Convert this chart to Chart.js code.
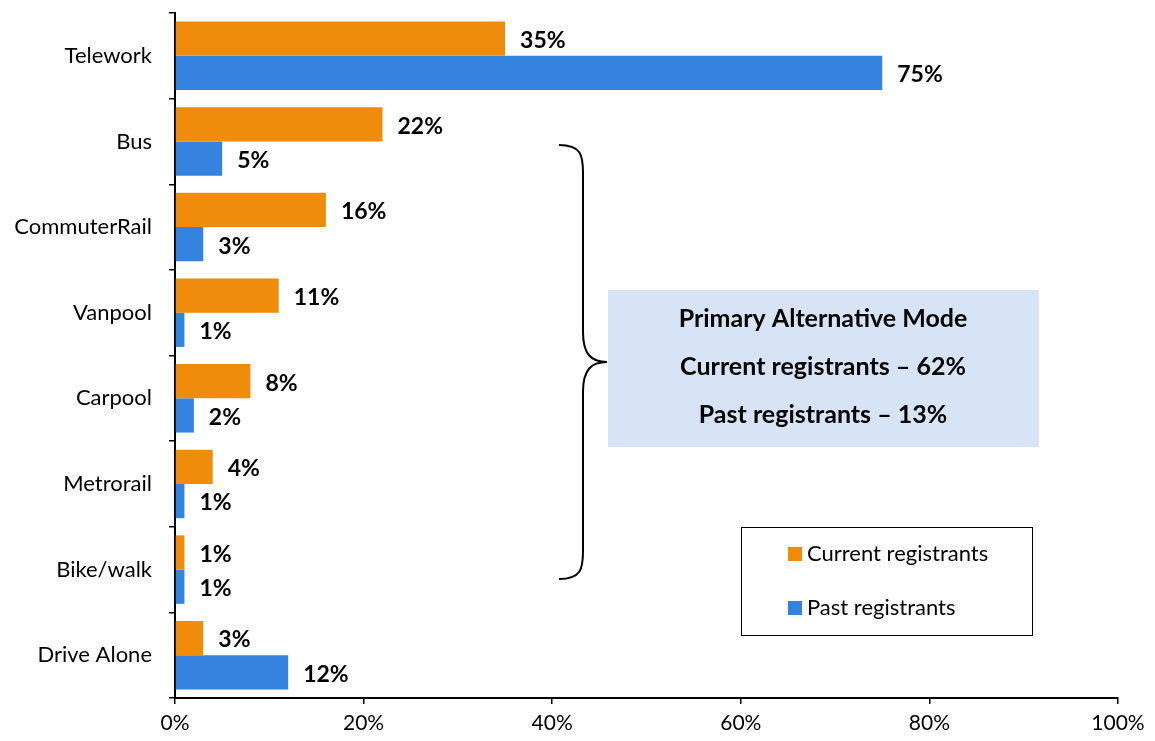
<!DOCTYPE html>
<html>
<head>
<meta charset="utf-8">
<script src="https://cdn.jsdelivr.net/npm/chart.js@4"></script>
<style>
  html, body { margin: 0; padding: 0; background: #fff; }
  #wrap { width: 1155px; height: 741px; }
</style>
</head>
<body>
<div id="wrap"><canvas id="grafico"></canvas></div>
<script>
const categories = ['Telework', 'Bus', 'CommuterRail', 'Vanpool', 'Carpool', 'Metrorail', 'Bike/walk', 'Drive Alone'];
const current = [35, 22, 16, 11, 8, 4, 1, 3];   // Current registrants
const past = [75, 5, 3, 1, 2, 1, 1, 12];        // Past registrants
const xTicks = [0, 20, 40, 60, 80, 100];
const noteLines = ['Primary Alternative Mode', 'Current registrants \u2013 62%', 'Past registrants \u2013 13%'];

const FONT = 'Lato, sans-serif';
const ORANGE = '#EF8C0C';
const BLUE = '#3483DF';

// rótulos de valor no fim de cada barra
const valueLabels = {
  id: 'valueLabels',
  afterDatasetsDraw(chart) {
    const ctx = chart.ctx;
    ctx.save();
    ctx.font = 'bold 23px ' + FONT;
    ctx.fillStyle = '#000';
    ctx.textBaseline = 'middle';
    chart.data.datasets.forEach((ds, di) => {
      chart.getDatasetMeta(di).data.forEach((bar, i) => {
        ctx.fillText(ds.data[i] + '%', bar.x + 15, bar.y + 2);
      });
    });
    ctx.restore();
  }
};

// chave, caixa de nota e legenda
const extras = {
  id: 'extras',
  afterDraw(chart) {
    const ctx = chart.ctx;
    ctx.save();

    // chave
    const bx = 559, top = 145, bot = 579, mid = 362, tip = 607, col = 583;
    ctx.strokeStyle = '#000';
    ctx.lineWidth = 2;
    ctx.beginPath();
    ctx.moveTo(bx, top);
    ctx.bezierCurveTo(col - 2, top, col, top + 10, col, top + 28);
    ctx.lineTo(col, mid - 30);
    ctx.bezierCurveTo(col, mid - 8, col + 8, mid, tip, mid);
    ctx.bezierCurveTo(col + 8, mid, col, mid + 8, col, mid + 30);
    ctx.lineTo(col, bot - 28);
    ctx.bezierCurveTo(col, bot - 10, col - 2, bot, bx, bot);
    ctx.stroke();

    // caixa de nota
    ctx.fillStyle = '#D6E4F6';
    ctx.fillRect(608, 290, 431, 157);
    ctx.fillStyle = '#000';
    ctx.font = 'bold 25px ' + FONT;
    ctx.textAlign = 'center';
    ctx.textBaseline = 'middle';
    noteLines.forEach((t, i) => ctx.fillText(t, 823, 319 + i * 48));

    // legenda
    ctx.strokeStyle = '#000';
    ctx.lineWidth = 1;
    ctx.strokeRect(741.5, 527.5, 291, 108);
    ctx.textAlign = 'left';
    ctx.font = '22px ' + FONT;
    chart.data.datasets.forEach((ds, i) => {
      const y = 554 + i * 54;
      ctx.fillStyle = ds.backgroundColor;
      ctx.fillRect(788, y - 7, 14, 14);
      ctx.fillStyle = '#000';
      ctx.fillText(ds.label, 807, y);
    });
    ctx.restore();
  }
};

new Chart(document.getElementById('grafico'), {
  type: 'bar',
  data: {
    labels: categories,
    datasets: [
      { label: 'Current registrants', data: current, backgroundColor: ORANGE },
      { label: 'Past registrants', data: past, backgroundColor: BLUE }
    ]
  },
  options: {
    indexAxis: 'y',
    responsive: true,
    maintainAspectRatio: false,
    animation: false,
    layout: { padding: { top: 13, right: 37 } },
    categoryPercentage: 0.8,
    barPercentage: 1.0,
    plugins: {
      legend: { display: false },
      tooltip: { enabled: false }
    },
    scales: {
      x: {
        min: 0,
        max: 100,
        afterBuildTicks(axis) { axis.ticks = xTicks.map(v => ({ value: v })); },
        afterFit(axis) { axis.height = 43; },
        border: { color: '#000', width: 2 },
        grid: { drawOnChartArea: false, color: '#000', lineWidth: 1.5, tickLength: 6 },
        ticks: {
          color: '#000',
          padding: 7,
          font: { family: FONT, size: 21 },
          maxRotation: 0,
          callback: v => v + '%'
        }
      },
      y: {
        afterFit(axis) {
          axis.width = 175;
          axis.paddingTop = 0;
          axis.paddingBottom = 0;
        },
        border: { color: '#000', width: 2 },
        grid: { drawOnChartArea: false, color: '#000', lineWidth: 1.5, tickLength: 6, offset: true },
        ticks: {
          color: '#000',
          padding: 17,
          font: { family: FONT, size: 22 }
        }
      }
    }
  },
  plugins: [valueLabels, extras]
});
</script>
</body>
</html>
